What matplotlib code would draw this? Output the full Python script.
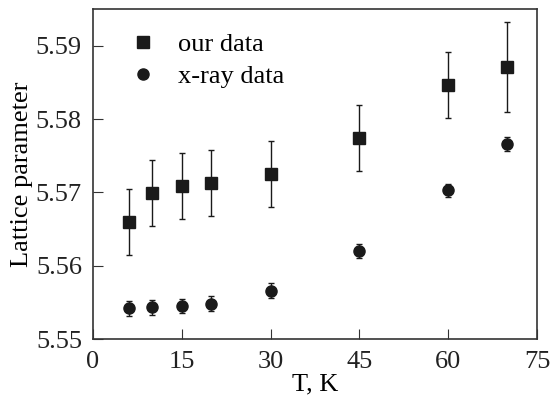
import matplotlib
matplotlib.use('Agg')
import matplotlib.pyplot as plt
from matplotlib.lines import Line2D

# Data
T = [6, 10, 15, 20, 30, 45, 60, 70]
OUR = [5.5660, 5.5699, 5.5709, 5.5713, 5.5725, 5.5774, 5.5846, 5.5871]
OUR_ERR = [0.0045, 0.0045, 0.0045, 0.0045, 0.0045, 0.0045, 0.0045, 0.0061]
XRAY = [5.5542, 5.5543, 5.5545, 5.5548, 5.5566, 5.5620, 5.5703, 5.5766]
XRAY_ERR = [0.0010, 0.0010, 0.0010, 0.0010, 0.0010, 0.0010, 0.0009, 0.0009]

XTICKS = [0, 15, 30, 45, 60, 75]
YTICKS = [5.55, 5.56, 5.57, 5.58, 5.59]

plt.rcParams['font.family'] = ['Liberation Serif', 'DejaVu Serif']
plt.rcParams['font.size'] = 19

fig = plt.figure(figsize=(5.51, 3.96), dpi=100)
ax = fig.add_axes([93 / 551, 1 - 339 / 396, 444 / 551, 330 / 396])

ax.errorbar(T, OUR, yerr=OUR_ERR, fmt='s', color='#1a1a1a', markersize=8,
            ecolor='#1a1a1a', elinewidth=1, capsize=2, capthick=1)
ax.errorbar(T, XRAY, yerr=XRAY_ERR, fmt='o', color='#1a1a1a', markersize=8,
            ecolor='#1a1a1a', elinewidth=1, capsize=2, capthick=1)

ax.set_xlim(0, 75)
ax.set_ylim(5.55, 5.595)
ax.set_xticks(XTICKS)
ax.set_yticks(YTICKS)
ax.set_yticklabels(['5.55', '5.56', '5.57', '5.58', '5.59'])
ax.tick_params(direction='in', length=7, width=0.8, colors='#333333',
               labelcolor='#222222')
ax.tick_params(axis='x', pad=9)
ax.tick_params(axis='y', pad=8)
for s in ax.spines.values():
    s.set_linewidth(1.2)
    s.set_color('#333333')

ax.set_xlabel('T, K', labelpad=0)
ax.set_ylabel('Lattice parameter', labelpad=2)

handles = [Line2D([], [], ls='none', marker='s', color='#1a1a1a', markersize=8),
           Line2D([], [], ls='none', marker='o', color='#1a1a1a', markersize=8)]
ax.legend(handles, ['our data', 'x-ray data'], loc='upper left',
          bbox_to_anchor=(0.03, 1.0), frameon=False,
          handletextpad=0.8, labelspacing=0.32, handlelength=1.0)

fig.savefig('out.png', dpi=100)
